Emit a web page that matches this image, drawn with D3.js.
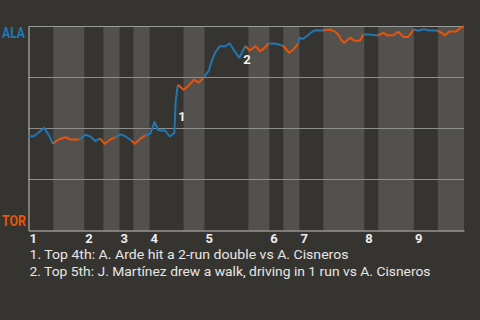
<!DOCTYPE html>
<html>
<head>
<meta charset="utf-8">
<script src="https://cdn.jsdelivr.net/npm/d3@7"></script>
<style>
  html, body { margin: 0; padding: 0; background: #363430; }
  svg { display: block; }
  text { font-family: Roboto, "Open Sans", sans-serif; }
</style>
</head>
<body>
<div id="chart"></div>
<script>
// ---- data ----
const teams = ["ALA", "TOR"];
const inningLabels = ["1", "2", "3", "4", "5", "6", "7", "8", "9"];
// start of each half inning, as % of game progress (top 1, bottom 1, top 2, ...), plus end
const halfStarts = [0, 5.7, 12.8, 17.2, 20.9, 24.1, 27.8, 35.6, 40.4, 50.5, 55.3, 58.5, 62.2, 67.7, 77.1, 80.3, 88.5, 94.0, 100];
// game progress (%) of each event
const progress = [
  0, 1.2, 2.4, 3.6, 4.7, 5.6,
  6.9, 8.5, 9.6, 11.7,
  13.1, 14.2, 15.4, 16.4,
  17.5, 18.8, 20.0,
  21.1, 22.2, 23.6,
  24.4, 25.7, 26.8,
  27.9, 28.4, 28.9, 29.7, 30.3, 31.4, 32.4, 33.5, 33.8, 34.3,
  35.6, 36.7, 38.0, 39.1, 40.3,
  41.4, 42.1, 42.9, 43.9, 45.2, 46.2, 47.2, 48.4, 49.8,
  50.8, 52.1, 53.2, 54.4, 55.1,
  56.7, 58.4,
  59.9, 60.8, 61.9,
  62.2, 63.1, 64.1, 64.7, 65.6, 66.5, 67.6,
  69.3, 70.4, 71.2, 71.9, 72.5, 73.9, 74.8, 76.1, 76.9,
  78.4, 79.2, 80.2,
  81.5, 82.3, 83.8, 84.9, 86.1, 87.2, 88.4,
  89.5, 90.8, 92.0, 93.9,
  94.9, 95.6, 96.6, 98.2, 99.1, 100
];
// ALA win probability (%) after each event
const alaWinPct = [
  46.2, 46.2, 48.2, 50.3, 46.6, 42.5,
  44.6, 45.7, 44.6, 44.6,
  46.9, 46.1, 43.8, 45.2,
  42.5, 44.6, 45.8,
  47.1, 46.2, 44.1,
  42.5, 45.0, 46.6,
  47.3, 49.9, 53.2, 49.5, 49.0, 49.0, 46.1, 47.7, 63.7, 71.4,
  69.0, 70.8, 74.0, 72.5, 75.2,
  78.4, 83.3, 87.3, 90.3, 90.3, 91.8, 88.2, 84.7, 90.5,
  88.2, 90.3, 87.9, 89.9, 91.7,
  91.5, 90.7,
  87.1, 88.7, 91.5,
  94.4, 94.0, 95.6, 96.7, 98.0, 98.2, 98.0,
  98.5, 97.5, 95.8, 93.1, 92.0, 94.5, 93.0, 93.0, 96.1,
  96.1, 95.8, 95.6,
  96.9, 95.7, 95.7, 97.4, 94.9, 94.9, 98.5,
  97.9, 98.7, 98.0, 98.0,
  96.9, 95.6, 97.5, 97.5, 99.3, 100
];
// key moments: marker label, position (progress %, win %) and description
const noteLabels = ["1", "2"];
const noteProgress = [34.4, 49.3];
const notePct = [53.9, 81.4];
const noteTexts = [
  "1. Top 4th: A. Arde hit a 2-run double vs A. Cisneros",
  "2. Top 5th: J. Martínez drew a walk, driving in 1 run vs A. Cisneros"
];
const pctTicks = [0, 25, 50, 75, 100];

// ---- drawing ----
const W = 480, H = 320;
const BLUE = "#1f78b4", ORANGE = "#e6550d";
const svg = d3.select("#chart").append("svg").attr("width", W).attr("height", H);
svg.append("rect").attr("width", W).attr("height", H).attr("fill", "#363430");

const x = d3.scaleLinear().domain([0, 100]).range([28.5, 464]);
const y = d3.scaleLinear().domain([0, 100]).range([230.5, 26.5]);

// shaded bottom halves
const bottoms = d3.range(9).map(i => [halfStarts[2 * i + 1], halfStarts[2 * i + 2]]);
svg.append("g").selectAll("rect").data(bottoms).join("rect")
  .attr("x", d => x(d[0])).attr("width", d => x(d[1]) - x(d[0]))
  .attr("y", y(100)).attr("height", y(0) - y(100))
  .attr("fill", "#52514e");

// gridlines
svg.append("g").selectAll("line").data(pctTicks.filter(t => t > 0)).join("line")
  .attr("x1", x(0)).attr("x2", x(100))
  .attr("y1", d => y(d)).attr("y2", d => y(d))
  .attr("stroke", d => d === 100 ? "#9a9a98" : "#8e8e8c").attr("stroke-width", 1);

// axes lines
const xAxis = d3.axisBottom(x).tickValues([]).tickSizeOuter(0);
svg.append("g").attr("transform", `translate(0,${y(0)})`).call(xAxis)
  .select(".domain").attr("stroke", "#c4c4c2");
const yAxis = d3.axisLeft(y).tickValues([]).tickSizeOuter(0);
svg.append("g").attr("transform", `translate(${x(0)},0)`).call(yAxis)
  .select(".domain").attr("stroke", "#c4c4c2");

// inning labels
svg.append("g").selectAll("text").data(inningLabels).join("text")
  .attr("x", (d, i) => x(halfStarts[2 * i]) + 1)
  .attr("y", 243)
  .attr("fill", "#eeeeec").attr("font-weight", "bold").attr("font-size", 13)
  .text(d => d);

// team labels
svg.append("text").attr("x", 2).attr("y", 38).attr("fill", BLUE)
  .attr("font-weight", "bold").attr("font-size", 14)
  .attr("textLength", 23).attr("lengthAdjust", "spacingAndGlyphs").text(teams[0]);
svg.append("text").attr("x", 2).attr("y", 226).attr("fill", ORANGE)
  .attr("font-weight", "bold").attr("font-size", 14)
  .attr("textLength", 24).attr("lengthAdjust", "spacingAndGlyphs").text(teams[1]);

// win probability line, coloured by half inning
const pts = progress.map((p, i) => ({ p, v: alaWinPct[i], h: Math.min(17, d3.bisectRight(halfStarts, p) - 1) }));
const groups = d3.groups(pts.map((d, i) => ({ ...d, i })), d => d.h);
const line = d3.line().x(d => x(d.p)).y(d => y(d.v));
groups.forEach(([h, arr]) => {
  const first = arr[0].i;
  const seg = first > 0 ? [pts[first - 1], ...arr] : arr;
  svg.append("path").datum(seg)
    .attr("d", line)
    .attr("fill", "none")
    .attr("stroke", h % 2 === 0 ? BLUE : ORANGE)
    .attr("stroke-width", 2)
    .attr("stroke-linejoin", "round");
});

// note markers
svg.append("g").selectAll("text").data(noteLabels).join("text")
  .attr("x", (d, i) => x(noteProgress[i]))
  .attr("y", (d, i) => y(notePct[i]))
  .attr("fill", "#f2f2f0").attr("font-weight", "bold").attr("font-size", 13)
  .text(d => d);

// note texts
const noteWidths = [319, 401];
svg.append("g").selectAll("text").data(noteTexts).join("text")
  .attr("x", 29.5)
  .attr("y", (d, i) => 259 + i * 17)
  .attr("fill", "#e6e6e4").attr("font-size", 13)
  .attr("textLength", (d, i) => noteWidths[i]).attr("lengthAdjust", "spacingAndGlyphs")
  .text(d => d);
</script>
</body>
</html>
